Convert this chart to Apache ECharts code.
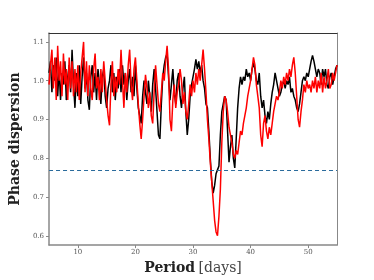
<!DOCTYPE html>
<html><head><meta charset="utf-8">
<script src="https://cdn.jsdelivr.net/npm/echarts@6/dist/echarts.min.js"></script>
<style>html,body{margin:0;padding:0;background:#fff}#c{width:374px;height:280px}</style>
</head><body><div id="c"></div>
<script>
const periods = [5.00,5.25,5.50,5.75,6.00,6.25,6.50,6.75,7.00,7.25,7.50,7.75,8.00,8.25,8.50,8.75,9.00,9.25,9.50,9.75,
10.00,10.25,10.50,10.75,11.00,11.25,11.50,11.75,12.00,12.25,12.50,12.75,13.00,13.25,13.50,13.75,14.00,14.25,14.50,14.75,
15.00,15.25,15.50,15.75,16.00,16.25,16.50,16.75,17.00,17.25,17.50,17.75,18.00,18.25,18.50,18.75,19.00,19.25,19.50,19.75,
20.00,20.25,20.50,20.75,21.00,21.25,21.50,21.75,22.00,22.25,22.50,22.75,23.00,23.25,23.50,23.75,24.00,24.25,24.50,24.75,
25.00,25.25,25.50,25.75,26.00,26.25,26.50,26.75,27.00,27.25,27.50,27.75,28.00,28.25,28.50,28.75,29.00,29.25,29.50,29.75,
30.00,30.25,30.50,30.75,31.00,31.25,31.50,31.75,32.00,32.25,32.50,32.75,33.00,33.25,33.50,33.75,34.00,34.25,34.50,34.75,
35.00,35.25,35.50,35.75,36.00,36.25,36.50,36.75,37.00,37.25,37.50,37.75,38.00,38.25,38.50,38.75,39.00,39.25,39.50,39.75,
40.00,40.25,40.50,40.75,41.00,41.25,41.50,41.75,42.00,42.25,42.50,42.75,43.00,43.25,43.50,43.75,44.00,44.25,44.50,44.75,
45.00,45.25,45.50,45.75,46.00,46.25,46.50,46.75,47.00,47.25,47.50,47.75,48.00,48.25,48.50,48.75,49.00,49.25,49.50,49.75,
50.00,50.25,50.50,50.75,51.00,51.25,51.50,51.75,52.00,52.25,52.50,52.75,53.00,53.25,53.50,53.75,54.00,54.25,54.50,54.75,
55.00];
const blackValues = [1.02,1.05,0.97,1.04,1.00,1.06,0.96,1.03,0.95,1.02,0.99,1.05,0.95,1.01,1.04,0.97,1.08,0.99,0.93,1.02,
0.96,1.04,0.94,1.01,1.06,0.98,1.02,0.95,0.925,1.01,1.04,0.97,1.02,0.95,1.03,0.99,0.94,1.01,1.03,0.96,
0.93,0.98,1.00,1.04,0.97,1.02,0.95,1.01,0.98,1.03,0.97,1.04,0.99,1.02,0.95,1.00,1.03,0.97,1.01,0.96,
1.04,0.98,0.93,0.91,0.89,0.96,1.00,0.97,0.94,1.00,0.96,0.92,0.99,1.03,0.98,0.92,0.86,0.85,0.94,1.01,
1.04,1.06,1.07,1.01,0.95,0.99,1.03,0.97,0.94,1.00,1.02,0.96,0.93,0.98,1.01,0.92,0.86,0.90,0.96,0.99,
1.01,1.03,1.055,1.03,1.05,1.02,1.04,1.00,0.98,0.94,0.93,0.87,0.80,0.74,0.71,0.73,0.76,0.77,0.78,0.86,
0.92,0.94,0.96,0.95,0.87,0.79,0.83,0.86,0.80,0.775,0.85,0.93,0.98,1.01,0.99,1.01,1.00,1.03,1.01,1.02,
1.00,1.03,1.045,1.03,1.00,0.99,1.02,0.96,0.93,0.95,0.91,0.89,0.92,0.90,0.94,0.97,0.99,1.02,1.00,0.98,
0.96,0.97,0.99,1.00,0.98,1.00,0.99,1.01,0.97,0.98,0.96,0.95,0.93,0.92,0.94,0.97,1.00,1.01,1.00,1.02,
1.01,1.03,1.05,1.065,1.05,1.03,1.01,1.03,1.02,0.99,1.03,1.01,1.03,0.99,0.98,1.01,1.02,0.99,1.01,1.03,
1.04];
const redValues = [0.99,1.04,1.08,0.98,1.06,0.95,1.09,1.00,1.05,0.96,1.07,0.99,1.03,0.95,1.06,0.98,1.05,0.96,1.03,0.97,
1.04,0.95,1.02,1.06,1.10,0.97,1.05,0.96,1.04,0.98,0.95,1.03,1.07,0.98,1.01,0.95,1.03,0.97,1.05,1.00,
0.95,0.91,0.885,0.99,1.05,0.96,1.01,0.97,1.03,0.99,1.08,1.00,0.93,1.02,0.97,1.04,1.08,0.99,0.95,1.03,
1.06,1.00,0.94,0.89,0.85,0.90,0.96,1.015,0.98,0.93,0.97,0.91,0.89,0.97,1.04,0.99,0.94,0.92,0.97,1.02,
1.00,1.05,1.09,1.03,0.90,0.87,0.95,0.99,0.93,0.97,0.99,1.03,1.00,0.94,0.97,0.92,0.90,0.94,0.99,0.96,
1.00,0.97,1.02,0.99,1.03,1.00,1.04,1.08,1.03,0.97,0.90,0.85,0.79,0.74,0.69,0.64,0.61,0.60,0.65,0.72,
0.84,0.92,0.96,0.95,0.92,0.88,0.86,0.84,0.81,0.80,0.82,0.81,0.84,0.87,0.86,0.89,0.91,0.93,0.96,0.98,
1.00,1.03,1.06,1.04,0.99,0.96,0.93,0.86,0.83,0.89,0.91,0.87,0.85,0.88,0.86,0.89,0.92,0.94,0.96,0.95,
0.97,1.00,0.98,1.01,0.99,1.02,1.00,1.03,1.01,1.04,1.06,1.02,0.96,0.90,0.88,0.92,0.95,0.99,0.97,1.00,
0.98,0.99,0.97,1.00,0.98,1.01,0.97,1.00,0.98,1.02,0.97,1.01,0.98,1.00,1.03,0.98,0.99,1.02,1.00,1.02,
1.04];
const thresholdValue = 0.77;
const xTicks = [10,20,30,40,50];
const yTicks = [0.6,0.7,0.8,0.9,1.0,1.1];

const pair = v => periods.map((p,i)=>[p,v[i]]);
const serif = '"DejaVu Serif","Liberation Serif",serif';
const chart = echarts.init(document.getElementById('c'));
chart.setOption({
  animation:false,
  grid:{left:47,right:37,top:33,bottom:32},
  xAxis:[{
    type:'value',min:5,max:55,
    name:'{b|Period} {n|[days]}',nameLocation:'middle',nameGap:15,
    nameTextStyle:{rich:{b:{fontFamily:serif,fontWeight:'bold',fontSize:14,color:'#222'},n:{fontFamily:serif,fontSize:14,color:'#444'}}},
    axisLine:{lineStyle:{color:'#888',width:1.5}},
    axisTick:{length:3,lineStyle:{color:'#888'},customValues:xTicks},
    axisLabel:{fontFamily:serif,fontSize:7,color:'#555',margin:4,customValues:xTicks},
    splitLine:{show:false}
  },{
    type:'value',position:'top',min:5,max:55,
    axisLine:{show:true,lineStyle:{color:'#333',width:1}},
    axisTick:{show:false},axisLabel:{show:false},splitLine:{show:false}
  }],
  yAxis:[{
    type:'value',min:0.576,max:1.123,
    name:'Phase dispersion',nameLocation:'middle',nameGap:26,
    nameTextStyle:{fontFamily:serif,fontWeight:'bold',fontSize:14,color:'#222'},
    axisLine:{show:true,lineStyle:{color:'#888',width:1.5}},
    axisTick:{show:true,length:3,lineStyle:{color:'#888'},customValues:yTicks},
    axisLabel:{fontFamily:serif,fontSize:7,color:'#555',margin:5,customValues:yTicks,formatter:v=>v.toFixed(1)},
    splitLine:{show:false}
  },{
    type:'value',position:'right',min:0.576,max:1.123,
    axisLine:{show:true,lineStyle:{color:'#888',width:1}},
    axisTick:{show:false},axisLabel:{show:false},splitLine:{show:false}
  }],
  series:[{
    type:'line',data:pair(blackValues),showSymbol:false,
    lineStyle:{color:'#000',width:1.5},z:2,
    markLine:{silent:true,symbol:'none',label:{show:false},
      lineStyle:{color:'#2a6b9c',type:[4,3],width:1.2},data:[{yAxis:thresholdValue}]}
  },{
    type:'line',data:pair(redValues),showSymbol:false,
    lineStyle:{color:'#ff0000',width:1.5},z:3
  }]
});
</script></body></html>
